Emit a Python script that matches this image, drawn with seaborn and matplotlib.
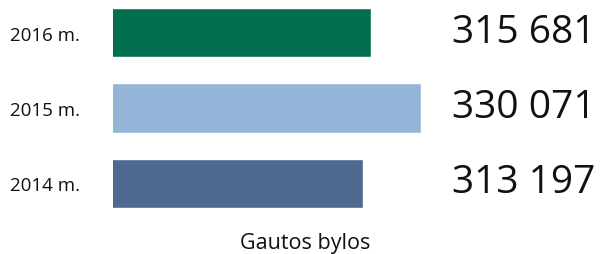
import matplotlib
matplotlib.use("Agg")
import matplotlib.pyplot as plt
import matplotlib.transforms as mtransforms
import seaborn as sns
import pandas as pd

# Chart data
years = ["2016 m.", "2015 m.", "2014 m."]
cases = [315681, 330071, 313197]
value_labels = ["315 681", "330 071", "313 197"]
bar_colors = ["#026F51", "#93B6D8", "#4E6A91"]
x_title = "Gautos bylos"

sns.set_theme(style="white")
plt.rcParams["font.family"] = ["Open Sans", "DejaVu Sans"]

data = pd.DataFrame({"year": years, "cases": cases})

fig = plt.figure(figsize=(6, 2.55), dpi=100)
# Axes placed so bars start at x=113px and labels line up with the reference
ax = fig.add_axes([113 / 600, 29 / 255, 384 / 600, 226 / 255])

sns.barplot(data=data, x="cases", y="year", hue="year", palette=bar_colors,
            order=years, hue_order=years, width=0.65, saturation=1,
            legend=False, ax=ax)

# Bars in the reference do not start at zero
ax.set_xlim(240878, 352086)
ax.set_ylim(2.55, -0.444)

sns.despine(ax=ax, left=True, bottom=True)
ax.set_xticks([])
ax.set_ylabel("")

# Year labels at the far left
ax.tick_params(axis="y", length=0, pad=74, labelsize=13.5)
for lbl in ax.get_yticklabels():
    lbl.set_horizontalalignment("left")
    lbl.set_color("#111111")

# Big numbers on the right, baseline a bit below the bar centre
trans = mtransforms.blended_transform_factory(fig.transFigure, ax.transData)
trans = trans + mtransforms.ScaledTranslation(0, -9 / 100, fig.dpi_scale_trans)
for i, txt in enumerate(value_labels):
    ax.text(452 / 600, i, txt, transform=trans, ha="left",
            va="baseline", fontsize=28, color="#111111", clip_on=False)

ax.set_xlabel(x_title, fontsize=15.5, color="#111111", labelpad=5)

fig.savefig("out.png", dpi=100)
